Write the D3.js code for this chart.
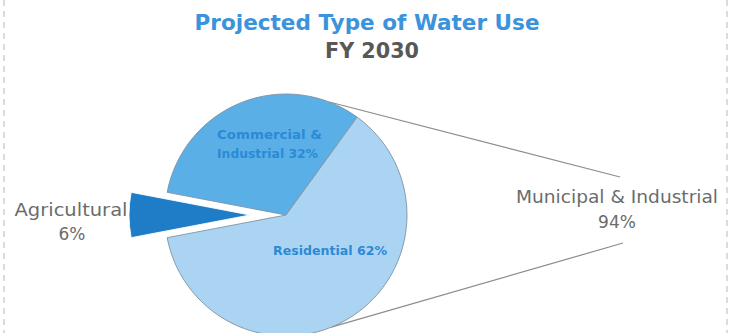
<!DOCTYPE html>
<html>
<head>
<meta charset="utf-8">
<script src="https://cdn.jsdelivr.net/npm/d3@7"></script>
<style>
  html, body { margin: 0; padding: 0; background: #ffffff; }
  svg { display: block; }
</style>
</head>
<body>
<svg id="chart" width="730" height="333"></svg>
<script>
// Water use shares, FY 2030 (percent)
const categories = ["Agricultural", "Commercial & Industrial", "Residential"];
const shares = [6, 32, 62];
const sliceLabels = [null, ["Commercial &", "Industrial 32%"], ["Residential 62%"]];
const sliceColors = ["#1f7cc6", "#5aafe6", "#abd4f2"];
const groupName = "Municipal & Industrial";
const groupShare = 94;

const W = 730, H = 333;
const svg = d3.select("#chart");
const font = "'DejaVu Sans', sans-serif";

// Side borders
[4, 727].forEach(x => {
  svg.append("line")
    .attr("x1", x).attr("x2", x).attr("y1", 0).attr("y2", H)
    .attr("stroke", "#b8b8b8").attr("stroke-width", 1)
    .attr("stroke-dasharray", "6,5");
});

// Titles
svg.append("text")
  .attr("x", 367).attr("y", 30)
  .attr("text-anchor", "middle")
  .attr("font-family", font).attr("font-weight", "bold")
  .attr("font-size", 20.5).attr("fill", "#3b93db")
  .attr("textLength", 345).attr("lengthAdjust", "spacingAndGlyphs")
  .text("Projected Type of Water Use");
svg.append("text")
  .attr("x", 372).attr("y", 58)
  .attr("text-anchor", "middle")
  .attr("font-family", font).attr("font-weight", "bold")
  .attr("font-size", 21.5).attr("fill", "#585858")
  .attr("textLength", 94).attr("lengthAdjust", "spacingAndGlyphs")
  .text("FY 2030");

// Pie
const cx = 286, cy = 215, R = 121, explode = 36;
const span0 = shares[0] / d3.sum(shares) * 2 * Math.PI;
const start = -Math.PI / 2 - span0 / 2;
const pie = d3.pie().sort(null).value(d => d)
  .startAngle(start).endAngle(start + 2 * Math.PI);
const arcs = pie(shares);
const arc = d3.arc().innerRadius(0).outerRadius(R);

const g = svg.append("g").attr("transform", `translate(${cx},${cy})`);

// Connector lines from the municipal & industrial part of the pie to its label
const rim = a => [R * Math.sin(a), -R * Math.cos(a)];
const deg = Math.PI / 180;
const upperStart = rim(21 * deg), lowerStart = rim(158 * deg);
const labelX = 617;
g.append("line")
  .attr("x1", upperStart[0]).attr("y1", upperStart[1])
  .attr("x2", 620 - cx).attr("y2", 177 - cy)
  .attr("stroke", "#8c8c8c").attr("stroke-width", 1.2);
g.append("line")
  .attr("x1", lowerStart[0]).attr("y1", lowerStart[1])
  .attr("x2", 623 - cx).attr("y2", 243 - cy)
  .attr("stroke", "#8c8c8c").attr("stroke-width", 1.2);

g.selectAll("path.slice")
  .data(arcs)
  .join("path")
  .attr("class", "slice")
  .attr("d", arc)
  .attr("transform", (d, i) => {
    if (i !== 0) return null;
    const mid = (d.startAngle + d.endAngle) / 2;
    return `translate(${explode * Math.sin(mid)},${-explode * Math.cos(mid)})`;
  })
  .attr("fill", (d, i) => sliceColors[i])
  .attr("stroke", (d, i) => i === 0 ? "#ffffff" : "#7f92a3")
  .attr("stroke-width", 0.9);

// In-slice labels
const inLabel = svg.append("g")
  .attr("font-family", font).attr("font-weight", "bold")
  .attr("font-size", 12).attr("fill", "#2b8ad6");
inLabel.append("text").attr("x", 217).attr("y", 139)
  .attr("textLength", 105).attr("lengthAdjust", "spacingAndGlyphs")
  .text(sliceLabels[1][0]);
inLabel.append("text").attr("x", 217).attr("y", 158)
  .attr("textLength", 101).attr("lengthAdjust", "spacingAndGlyphs")
  .text(sliceLabels[1][1]);
inLabel.append("text").attr("x", 330).attr("y", 255)
  .attr("text-anchor", "middle")
  .attr("textLength", 114).attr("lengthAdjust", "spacingAndGlyphs")
  .text(sliceLabels[2][0]);

// Outside labels
const outLabel = svg.append("g")
  .attr("font-family", font).attr("font-size", 17).attr("fill", "#6a6d6b")
  .attr("text-anchor", "middle");
outLabel.append("text").attr("x", 71).attr("y", 216)
  .attr("textLength", 113).attr("lengthAdjust", "spacingAndGlyphs")
  .text(categories[0]);
outLabel.append("text").attr("x", 72).attr("y", 240)
  .text(shares[0] + "%");
outLabel.append("text").attr("x", labelX).attr("y", 203)
  .attr("textLength", 202).attr("lengthAdjust", "spacingAndGlyphs")
  .text(groupName);
outLabel.append("text").attr("x", labelX).attr("y", 228)
  .text(groupShare + "%");
</script>
</body>
</html>
